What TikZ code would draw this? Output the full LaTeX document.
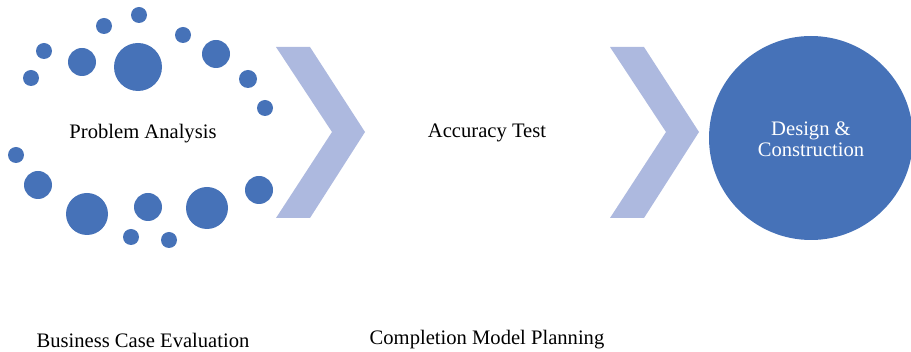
\documentclass[tikz,border=0pt]{standalone}
\usepackage{fontspec}
\setmainfont{Liberation Serif}
\definecolor{dotblue}{HTML}{4672B8}
\definecolor{chevblue}{HTML}{ADB9DF}
\tikzset{
  dot/.style={fill=dotblue, draw=none},
  chev/.style={fill=chevblue, draw=none},
  lbl/.style={font=\fontsize{20.6}{23}\selectfont, text=black, inner sep=0pt, align=center},
}
\begin{document}
\begin{tikzpicture}[x=1pt,y=-1pt]
\useasboundingbox (0,0) rectangle (911,352);
% dots round Problem Analysis
\foreach \cx/\cy/\r in {139/15/8, 104/26/8, 44/51/8, 31/78/8, 82/62/14, 138/67/24,
  183/35/8, 216/54/14, 248/79/9, 265/108/8, 16/155/8, 38/185/14, 87/214/21,
  148/207/14, 131/237/8, 169/240/8, 207/208/21, 259/190/14}
  \fill[dot] (\cx,\cy) circle[radius=\r];
% chevrons
\fill[chev] (276,47) -- (310,47) -- (365,132) -- (310,218) -- (276,218) -- (332,132) -- cycle;
\fill[chev] (610,47) -- (644,47) -- (699,132) -- (644,218) -- (610,218) -- (666,132) -- cycle;
% big circle
\node[circle, dot, minimum size=204pt, inner sep=0pt] (design) at (811,138) {};
\node[lbl, text=white, font=\fontsize{20.6}{21}\selectfont] (designtxt) at (811,139) {Design \&\\Construction};
% labels
\node[lbl] (problem) at (143,134) {Problem Analysis};
\node[lbl] (accuracy) at (487,133) {Accuracy Test};
\node[lbl] (business) at (143,340) {Business Case Evaluation};
\node[lbl] (completion) at (487,340) {Completion Model Planning};
\end{tikzpicture}
\end{document}
